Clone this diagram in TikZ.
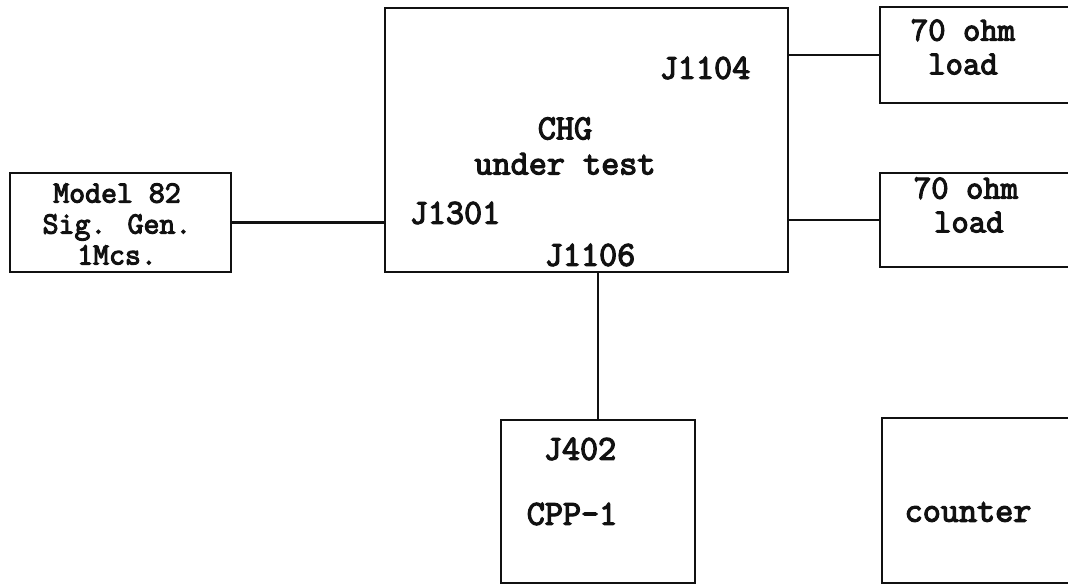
\documentclass[tikz,border=0pt]{standalone}
\usepackage{fontspec}
\newfontfamily\typew{Latin Modern Mono}[FakeBold=3.5]
\usepackage{tikz}
\usetikzlibrary{positioning}
\definecolor{Ink}{HTML}{111111}

\tikzset{
  unit/.style={draw=Ink,line width=1.8pt,inner sep=0pt},
  wire/.style={draw=Ink,line width=1.6pt},
  lbl/.style={font=\typew\fontsize{25}{25}\selectfont,text=Ink,inner sep=0pt},
  lblmid/.style={font=\typew\fontsize{24}{24}\selectfont,text=Ink,inner sep=0pt},
  lblsm/.style={font=\typew\fontsize{22}{22}\selectfont,text=Ink,inner sep=0pt}
}

\begin{document}
\begin{tikzpicture}[x=0.025cm,y=-0.025cm]
  \useasboundingbox (0,0) rectangle (1068,585);
  % boxes
  \node[unit,minimum width=5.525cm,minimum height=2.475cm] (gen) at (120.5,222.5) {};
  \node[unit,minimum width=10.075cm,minimum height=6.6cm] (chg) at (586.5,140) {};
  \node[unit,minimum width=5.75cm,minimum height=2.4cm] (loadA) at (995,55) {};
  \node[unit,minimum width=5.75cm,minimum height=2.35cm] (loadB) at (995,220) {};
  \node[unit,minimum width=4.85cm,minimum height=4.075cm] (cpp) at (598,501.5) {};
  \node[unit,minimum width=5.7cm,minimum height=4.125cm] (cnt) at (996,500.5) {};
  % texts
  \node[lblsm,align=center] (genTxt) at (117,224) {Model 82\\Sig. Gen.\\1Mcs.};
  \node[lbl,align=center] (chgTxt) at (565,146) {CHG\\under test};
  \node[lbl] (jA) at (705,68) {J1104};
  \node[lbl] (jB) at (455,213) {J1301};
  \node[lbl] (jC) at (590,255) {J1106};
  \node[lblmid,align=center] (loadATxt) at (963,47) {70 ohm\\load};
  \node[lblmid,align=center] (loadBTxt) at (966,205) {70 ohm\\\,load};
  \node[lbl] (jD) at (580,449) {J402};
  \node[lbl] (cppTxt) at (572,514) {CPP-1};
  \node[lbl] (cntTxt) at (968,512) {counter};
  % connections
  \draw[wire] (gen.east) -- (gen.east -| chg.west);
  \draw[wire] (loadA.west -| chg.east) -- (loadA.west);
  \draw[wire] (loadB.west -| chg.east) -- (loadB.west);
  \draw[wire] (cpp.north |- chg.south) -- (cpp.north);
\end{tikzpicture}
\end{document}
